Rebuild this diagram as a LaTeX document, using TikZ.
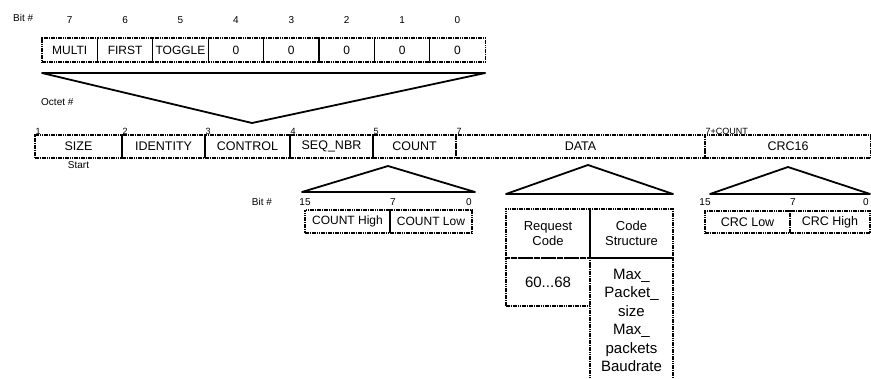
\documentclass[tikz,border=0pt]{standalone}
\usepackage{fontspec}
\setmainfont{Liberation Sans}
\usetikzlibrary{positioning}
\tikzstyle{field} = [rectangle, draw=black, line width=1.2pt, dash pattern=on 1.6pt off 0.7pt, inner sep=1pt, outer sep=0pt, minimum height=24pt, text centered, font=\fontsize{12}{14}\selectfont]
\tikzstyle{cell} = [rectangle, draw=black, line width=1.2pt, dash pattern=on 1.6pt off 0.7pt, inner sep=1pt, outer sep=0pt, align=center, font=\fontsize{13}{15}\selectfont]
\tikzstyle{edge} = [line width=1.2pt, dash pattern=on 1.6pt off 0.7pt]
\tikzstyle{bitno} = [inner sep=1pt, font=\fontsize{10}{11}\selectfont]
\tikzstyle{octno} = [inner sep=0.5pt, anchor=south west, font=\fontsize{9}{10}\selectfont]
\tikzstyle{fan} = [line width=1.8pt, line join=round]

\begin{document}
\begin{tikzpicture}[x=1pt, y=-1pt]
      \useasboundingbox (0,0) rectangle (871,378);
      % control byte
      \node (bitlbl)[bitno, anchor=west] at (12,18) {Bit \#};
      \node (multi)[field, minimum width=55.4pt] at (69.7,50) {MULTI};
      \node (first)[field, minimum width=55.4pt, right=0pt of multi] {FIRST};
      \node (toggle)[field, minimum width=55.4pt, right=0pt of first] {TOGGLE};
      \node (zero4)[field, minimum width=55.4pt, right=0pt of toggle] {0};
      \node (zero3)[field, minimum width=55.4pt, right=0pt of zero4] {0};
      \node (zero2)[field, minimum width=55.4pt, right=0pt of zero3] {0};
      \node (zero1)[field, minimum width=55.4pt, right=0pt of zero2] {0};
      \node (zero0)[field, minimum width=55.4pt, right=0pt of zero1] {0};
      \node (b7)[bitno, above=13pt of multi] {7};
      \node (b6)[bitno, above=13pt of first] {6};
      \node (b5)[bitno, above=13pt of toggle] {5};
      \node (b4)[bitno, above=13pt of zero4] {4};
      \node (b3)[bitno, above=13pt of zero3] {3};
      \node (b2)[bitno, above=13pt of zero2] {2};
      \node (b1)[bitno, above=13pt of zero1] {1};
      \node (b0)[bitno, above=13pt of zero0] {0};
      \coordinate (ctltip) at (252,123);
      \draw[fan] ([yshift=-11pt]multi.south west) -- ([yshift=-11pt]zero0.south east) -- (ctltip) -- cycle;

      % frame octets
      \node (octlbl)[bitno, anchor=west] at (40,102) {Octet \#};
      \node (size)[field, minimum width=87pt, minimum height=23pt, anchor=west, font=\fontsize{12.5}{14}\selectfont] at (35,146.5) {SIZE};
      \node (ident)[field, minimum width=83pt, minimum height=23pt, right=0pt of size, font=\fontsize{12.5}{14}\selectfont] {IDENTITY};
      \node (control)[field, minimum width=85pt, minimum height=23pt, right=0pt of ident, font=\fontsize{12.5}{14}\selectfont] {CONTROL};
      \node (seqnbr)[field, minimum width=83pt, minimum height=23pt, right=0pt of control, font=\fontsize{12.5}{14}\selectfont] {SEQ\_NBR};
      \node (count)[field, minimum width=83pt, minimum height=23pt, right=0pt of seqnbr, font=\fontsize{12.5}{14}\selectfont] {COUNT};
      \node (data)[field, minimum width=249pt, minimum height=23pt, right=0pt of count, font=\fontsize{12.5}{14}\selectfont] {DATA};
      \node (crc)[field, minimum width=166pt, minimum height=23pt, right=0pt of data, font=\fontsize{12.5}{14}\selectfont] {CRC16};
      \node (o1)[octno] at (size.north west) {1};
      \node (o2)[octno] at (ident.north west) {2};
      \node (o3)[octno] at (control.north west) {3};
      \node (o4)[octno] at (seqnbr.north west) {4};
      \node (o5)[octno] at (count.north west) {5};
      \node (o7)[octno] at (data.north west) {7};
      \node (o7c)[octno] at (crc.north west) {7+COUNT};
      \node (start)[bitno, below=2pt of size] {Start};

      % count octets
      \node (cntbit)[bitno] at (262,202) {Bit \#};
      \node (cnthi)[field, minimum width=85pt, minimum height=23pt] at (347.5,221.5) {COUNT High};
      \node (cntlo)[field, minimum width=82pt, minimum height=23pt, right=0pt of cnthi] {COUNT Low};
      \node (c15)[bitno] at ([yshift=8pt]cnthi.north west) {15};
      \node (c7)[bitno] at ([shift={(3pt,8pt)}]cnthi.north east) {7};
      \node (c0)[bitno] at ([shift={(-3pt,8pt)}]cntlo.north east) {0};
      \coordinate (cnttip) at (388,166);
      \draw[fan] ([shift={(-3pt,18pt)}]cnthi.north west) -- ([shift={(3pt,18pt)}]cntlo.north east) -- (cnttip) -- cycle;

      % data table
      \node (reqcode)[cell, minimum width=84pt, minimum height=49pt] at (548,233.5) {Request\\Code};
      \node (codestr)[cell, minimum width=83pt, minimum height=49pt, right=0pt of reqcode] {Code\\Structure};
      \node (reqval)[cell, minimum width=84pt, minimum height=48pt, below=0pt of reqcode, font=\fontsize{15}{17}\selectfont] {60...68};
      \node (maxcol)[inner sep=1pt, outer sep=0pt, minimum width=83pt, minimum height=125pt, anchor=north, align=center, font=\fontsize{15}{18.5}\selectfont] at (codestr.south) {Max\_\\Packet\_\\size\\Max\_\\packets\\Baudrate};
      \draw[edge] (maxcol.south west) -- (maxcol.north west) -- (maxcol.north east) -- (maxcol.south east);
      \coordinate (datatip) at (588,165);
      \draw[fan] ([yshift=15pt]reqcode.north west) -- ([yshift=15pt]codestr.north east) -- (datatip) -- cycle;

      % crc octets
      \node (crclo)[field, minimum width=85pt, minimum height=22pt, font=\fontsize{12.5}{14}\selectfont] at (747.5,222) {CRC Low};
      \node (crchi)[field, minimum width=80pt, minimum height=22pt, right=0pt of crclo, font=\fontsize{12.5}{14}\selectfont] {CRC High};
      \node (r15)[bitno] at ([yshift=9pt]crclo.north west) {15};
      \node (r7)[bitno] at ([shift={(3pt,9pt)}]crclo.north east) {7};
      \node (r0)[bitno] at ([shift={(-4pt,9pt)}]crchi.north east) {0};
      \coordinate (crctip) at (788,167);
      \draw[fan] ([shift={(5pt,17pt)}]crclo.north west) -- ([shift={(0pt,17pt)}]crchi.north east) -- (crctip) -- cycle;
\end{tikzpicture}
\end{document}
